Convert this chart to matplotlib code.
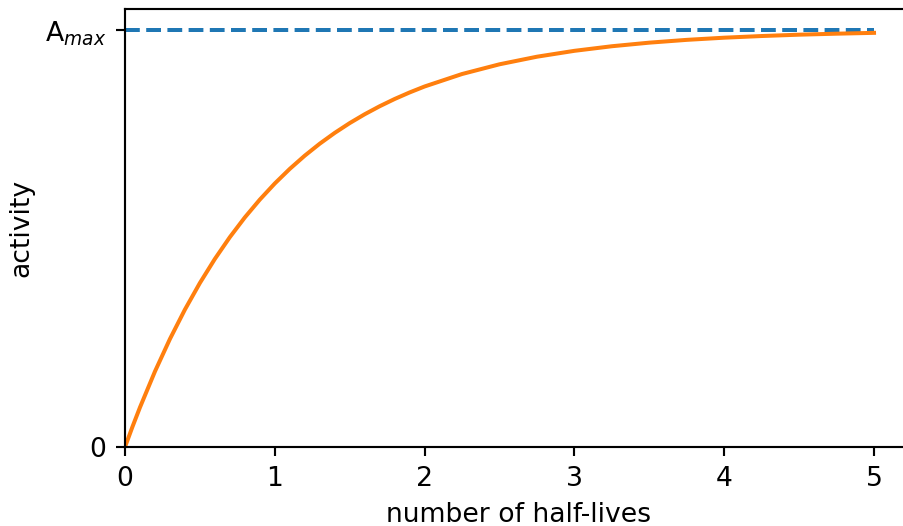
import matplotlib
matplotlib.use("Agg")
import matplotlib.pyplot as plt

# activity build-up vs. time (in half-lives), normalised to the saturation value
t_half = [0, 0.05, 0.1, 0.2, 0.3, 0.4, 0.5, 0.6, 0.7, 0.8, 0.9, 1.0,
          1.1, 1.2, 1.3, 1.4, 1.5, 1.6, 1.7, 1.8, 1.9, 2.0,
          2.25, 2.5, 2.75, 3.0, 3.25, 3.5, 3.75, 4.0, 4.25, 4.5, 4.75, 5.0]
activity = [0, 0.0488, 0.0952, 0.1813, 0.2592, 0.3297, 0.3935, 0.4512, 0.5034,
            0.5507, 0.5934, 0.6321, 0.6671, 0.6988, 0.7275, 0.7534, 0.7769,
            0.7981, 0.8173, 0.8347, 0.8504, 0.8647, 0.8946, 0.9179, 0.9361,
            0.9502, 0.9612, 0.9698, 0.9765, 0.9817, 0.9857, 0.9889, 0.9913, 0.9933]
a_max = 1.0
ytick_vals = [0, a_max]
ytick_labels = ['0', r'A$_{max}$']

DPI = 192
fig = plt.figure(figsize=(903 / DPI, 526 / DPI), dpi=DPI)
# axes run slightly past the right edge of the canvas
ax = fig.add_axes([0.1384, 0.150, 0.871, 0.8325])

ax.plot([t_half[0], t_half[-1]], [a_max, a_max], '--', color='C0')
ax.plot(t_half, activity, color='C1')

ax.set_xlim(0, 5.25)
ax.set_ylim(0, 1.05)
ax.set_yticks(ytick_vals)
ax.set_yticklabels(ytick_labels)
ax.set_xlabel('number of half-lives')
ax.set_ylabel('activity')

fig.savefig('out.png', dpi=DPI)
